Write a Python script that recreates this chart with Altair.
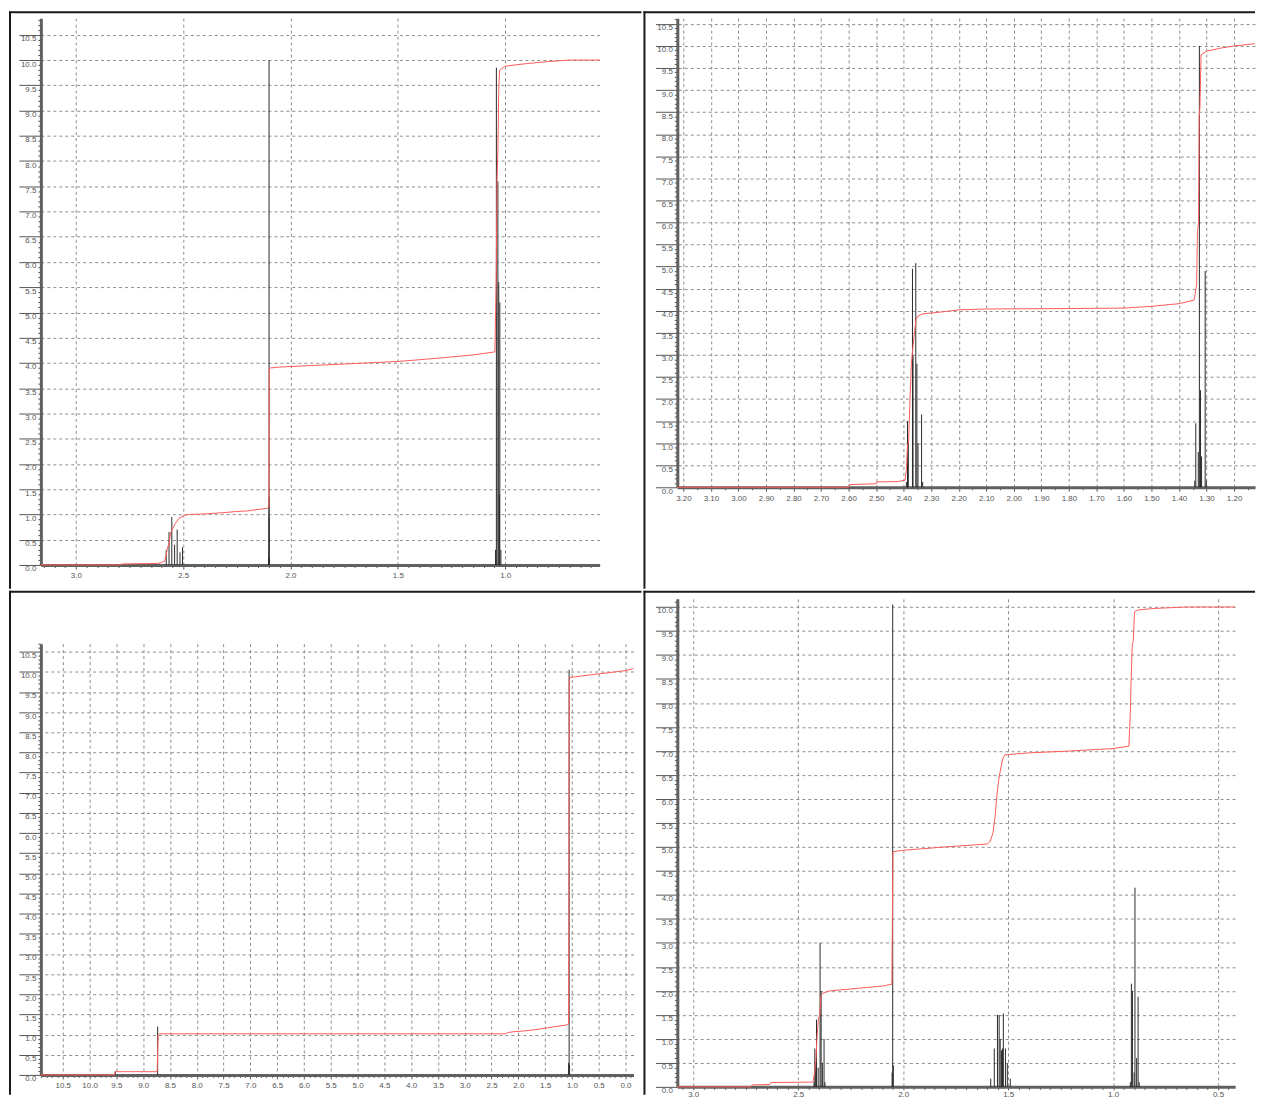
import altair as alt
import pandas as pd

# ---------------- data ----------------
# Top-left spectrum: peak positions (ppm) and heights
tl_peak_ppm = [2.579, 2.566, 2.553, 2.540, 2.528, 2.515, 2.503,
               2.102, 2.1005, 2.100, 2.0995, 2.098,
               1.045, 1.041, 1.034, 1.030, 1.027, 1.025, 1.020]
tl_peak_int = [0.30, 0.65, 0.95, 0.40, 0.70, 0.25, 0.35,
               0.15, 1.35, 10.0, 0.95, 0.12,
               0.30, 9.85, 7.60, 5.60, 1.40, 5.20, 0.30]
# Top-left integral curve
tl_int_ppm = [3.163, 2.80, 2.78, 2.62, 2.60, 2.585, 2.575, 2.565, 2.558, 2.548,
              2.540, 2.530, 2.520, 2.505, 2.490, 2.470, 2.40, 2.30, 2.25, 2.20,
              2.15, 2.110, 2.101, 2.099, 2.05, 1.90, 1.70, 1.50, 1.30, 1.15,
              1.048, 1.042, 1.038, 1.034, 1.030, 1.026, 1.000, 0.90, 0.80, 0.70, 0.560]
tl_int_val = [0.00, 0.00, 0.02, 0.03, 0.05, 0.08, 0.30, 0.45, 0.65, 0.72,
              0.80, 0.86, 0.92, 0.96, 0.99, 1.00, 1.01, 1.04, 1.06, 1.07,
              1.10, 1.12, 1.15, 3.90, 3.92, 3.95, 3.99, 4.03, 4.10, 4.16,
              4.22, 5.60, 7.60, 8.20, 9.40, 9.80, 9.88, 9.93, 9.97, 10.00, 10.00]

# Top-right spectrum
tr_peak_ppm = [2.390, 2.386, 2.383, 2.368, 2.366, 2.356, 2.352, 2.348, 2.335, 2.331,
               1.343, 1.339, 1.330, 1.326, 1.322, 1.318, 1.305, 1.301]
tr_peak_int = [0.12, 1.50, 1.05, 4.95, 3.00, 5.08, 2.80, 1.00, 1.65, 0.12,
               0.15, 1.45, 0.80, 10.0, 2.20, 0.70, 4.90, 0.15]
tr_int_ppm = [3.222, 2.600, 2.598, 2.500, 2.498, 2.420, 2.395, 2.390, 2.386, 2.382,
              2.377, 2.372, 2.366, 2.360, 2.355, 2.348, 2.330, 2.250, 2.200, 2.100,
              1.800, 1.600, 1.500, 1.400, 1.345, 1.336, 1.333, 1.329, 1.327, 1.324,
              1.320, 1.300, 1.250, 1.200, 1.124]
tr_int_val = [0.00, 0.00, 0.06, 0.08, 0.12, 0.13, 0.16, 0.40, 0.95, 1.05,
              2.00, 2.80, 3.20, 3.55, 3.80, 3.88, 3.93, 3.98, 4.02, 4.04,
              4.05, 4.06, 4.10, 4.16, 4.24, 4.60, 5.80, 6.00, 8.40, 8.60,
              9.80, 9.88, 9.95, 10.00, 10.05]

# Bottom-left spectrum
bl_peak_ppm = [9.52, 8.73, 1.062, 1.052, 1.044]
bl_peak_int = [0.10, 1.20, 0.30, 10.05, 0.25]
bl_int_ppm = [10.909, 9.54, 9.52, 8.74, 8.72, 8.70, 2.25, 2.20, 2.10, 1.90,
              1.70, 1.50, 1.30, 1.10, 1.062, 1.050, 1.040, 0.80, 0.50, 0.00, -0.149]
bl_int_val = [0.00, 0.00, 0.08, 0.08, 1.00, 1.02, 1.02, 1.05, 1.07, 1.09,
              1.12, 1.16, 1.20, 1.24, 1.26, 9.83, 9.86, 9.90, 9.95, 10.03, 10.08]

# Bottom-right spectrum
br_peak_ppm = [2.425, 2.421, 2.417, 2.413, 2.405, 2.396, 2.391, 2.385, 2.377, 2.373,
               2.053, 2.050, 2.047,
               1.583, 1.566, 1.551, 1.543, 1.538, 1.532, 1.527, 1.523, 1.513, 1.504, 1.490,
               0.918, 0.913, 0.908, 0.900, 0.896, 0.888, 0.881, 0.876]
br_peak_int = [0.10, 0.80, 0.50, 1.40, 0.40, 3.00, 2.00, 0.50, 1.00, 0.10,
               0.30, 10.05, 0.45,
               0.17, 0.80, 1.50, 1.50, 1.00, 0.76, 0.80, 1.53, 0.80, 0.49, 0.17,
               0.10, 2.15, 2.00, 0.30, 4.15, 0.60, 1.88, 0.10]
br_int_ppm = [3.076, 2.725, 2.720, 2.635, 2.630, 2.430, 2.422, 2.416, 2.411, 2.404,
              2.398, 2.392, 2.380, 2.350, 2.300, 2.200, 2.100, 2.054, 2.049, 2.000,
              1.800, 1.600, 1.585, 1.572, 1.563, 1.553, 1.545, 1.535, 1.525, 1.515,
              1.400, 1.200, 1.000, 0.925, 0.918, 0.914, 0.909, 0.904, 0.898, 0.880,
              0.800, 0.650, 0.419]
br_int_val = [0.00, 0.00, 0.04, 0.05, 0.09, 0.10, 0.30, 0.55, 1.00, 1.40,
              1.50, 1.90, 1.96, 2.00, 2.02, 2.06, 2.10, 2.14, 4.90, 4.93,
              5.00, 5.06, 5.12, 5.30, 5.60, 6.10, 6.40, 6.65, 6.85, 6.92,
              6.96, 7.00, 7.05, 7.10, 7.80, 8.50, 9.20, 9.30, 9.90, 9.94,
              9.97, 10.00, 10.00]

FONT = "Liberation Sans"
LABEL_COLOR = "#555555"
GRID_COLOR = "#8c8c8c"


def tick_values(lo, hi, step):
    n0 = int(round(lo / step)) - 1
    n1 = int(round(hi / step)) + 1
    out = []
    for k in range(n0, n1 + 1):
        v = round(k * step, 4)
        if lo - 1e-9 <= v <= hi + 1e-9:
            out.append(v + 0.0)
    return out


def major_test(major):
    return f"abs(datum.value / {major} - round(datum.value / {major})) < 0.0001"


def x_axis(vals, major, fmt, tick_major=4, pad=3):
    t = major_test(major)
    return alt.Axis(
        values=vals, title=None, grid=True,
        gridColor=GRID_COLOR, gridDash=[3, 3], gridWidth=1,
        gridOpacity={"condition": {"test": t, "value": 1}, "value": 0},
        tickSize={"condition": {"test": t, "value": tick_major}, "value": 2.5},
        tickColor="#555555", tickWidth=1,
        domainColor="#606060", domainWidth=3,
        labelExpr=f"({t}) ? format(datum.value, '{fmt}') : ''",
        labelFont=FONT, labelFontSize=8, labelColor=LABEL_COLOR,
        labelPadding=pad, labelOverlap=False, labelFlush=False,
    )


def y_axis(vals, major=0.5):
    t = major_test(major)
    return alt.Axis(
        values=vals, title=None, grid=True,
        gridColor=GRID_COLOR, gridDash=[3, 3], gridWidth=1,
        gridOpacity={"condition": {"test": t, "value": 1}, "value": 0},
        tickSize={"condition": {"test": t, "value": 22}, "value": 3},
        tickColor="#555555", tickWidth=1,
        domainColor="#606060", domainWidth=3,
        labelExpr=f"({t}) ? format(datum.value, '.1f') : ''",
        labelFont=FONT, labelFontSize=8, labelColor=LABEL_COLOR,
        labelPadding=-17, labelBaseline="middle", labelOffset=4,
        labelOverlap=False, labelFlush=False,
    )


def panel(pk_ppm, pk_int, in_ppm, in_val, xdom, ydom, w, h,
          xstep, xmajor, xfmt, frame, tick_major=4, pad=3):
    xs = alt.Scale(domain=xdom, reverse=True, nice=False, zero=False)
    ys = alt.Scale(domain=ydom, nice=False, zero=False)
    xa = x_axis(tick_values(xdom[0], xdom[1], xstep), xmajor, xfmt, tick_major, pad)
    ya = y_axis(tick_values(ydom[0], ydom[1], 0.1))

    spec = pd.DataFrame({"ppm": pk_ppm, "v": pk_int, "b": [0.0] * len(pk_ppm)})
    integ = pd.DataFrame({"ppm": in_ppm, "v": in_val, "i": list(range(len(in_ppm)))})

    peaks = alt.Chart(spec).mark_rule(color="#2a2a2a", strokeWidth=1).encode(
        x=alt.X("ppm:Q", scale=xs, axis=xa),
        y=alt.Y("v:Q", scale=ys, axis=ya),
        y2="b:Q",
    )
    curve = alt.Chart(integ).mark_line(color="#ff5a5a", strokeWidth=1).encode(
        x=alt.X("ppm:Q", scale=xs, axis=xa),
        y=alt.Y("v:Q", scale=ys, axis=ya),
        order="i:Q",
    )

    x1, x2, y1, y2 = frame
    one = pd.DataFrame({"k": [0]})
    bbox = alt.Chart(one).mark_rect(fillOpacity=0, strokeOpacity=0, strokeWidth=0).encode(
        x=alt.value(x1), x2=alt.value(x2), y=alt.value(y1), y2=alt.value(y2))
    top = alt.Chart(one).mark_rule(color="#1a1a1a", strokeWidth=2).encode(
        x=alt.value(x1), x2=alt.value(x2), y=alt.value(y1 + 1))
    left = alt.Chart(one).mark_rule(color="#1a1a1a", strokeWidth=2).encode(
        x=alt.value(x1 + 1), y=alt.value(y1), y2=alt.value(y2))

    return alt.layer(bbox, peaks, curve, top, left).properties(width=w, height=h)


tl = panel(tl_peak_ppm, tl_peak_int, tl_int_ppm, tl_int_val,
           [0.560, 3.163], [0, 10.83], 561, 549, 0.05, 0.5, ".1f",
           (-32, 603, -7, 573))
tr = panel(tr_peak_ppm, tr_peak_int, tr_int_ppm, tr_int_val,
           [1.124, 3.222], [0, 10.63], 580, 471, 0.05, 0.1, ".2f",
           (-34, 580, -7, 573))
bl = panel(bl_peak_ppm, bl_peak_int, bl_int_ppm, bl_int_val,
           [-0.149, 10.909], [0, 10.70], 595, 433, 0.1, 0.5, ".1f",
           (-32, 603, -53, 453))
br = panel(br_peak_ppm, br_peak_int, br_int_ppm, br_int_val,
           [0.419, 3.076], [0, 10.17], 560, 490, 0.05, 0.5, ".1f",
           (-34, 580, -8, 498), tick_major=3, pad=1)

chart = alt.concat(tl, tr, bl, br, columns=2, spacing=0).properties(
    align="none", bounds="full",
    padding={"left": 0, "top": 0, "right": 0, "bottom": 0},
    background="white",
).configure_view(strokeWidth=0)

chart.save("out.html", embed_options={"renderer": "svg", "actions": False})
